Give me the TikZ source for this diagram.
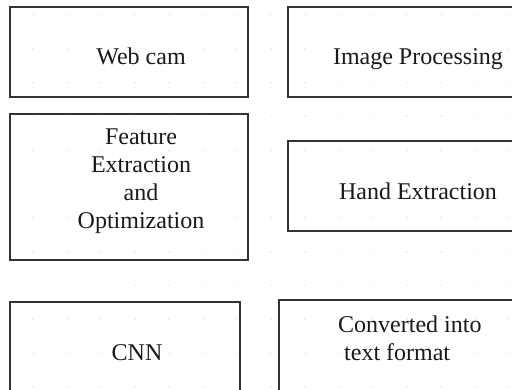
\documentclass[tikz,border=0pt]{standalone}
\usepackage{fontspec}
\setmainfont{Liberation Serif}
\usepackage{tikz}
\usetikzlibrary{positioning}

\begin{document}
\begin{tikzpicture}[x=1pt, y=-1pt,
        box/.style={rectangle, draw=black!80, line width=1.5pt, inner sep=0pt, outer sep=0pt},
        lbl/.style={inner sep=0pt, font=\fontsize{24}{27.7}\selectfont, text=black!90},
        gdot/.style={fill=black!18}]

        \clip (0,0) rectangle (512,390);
        \fill[white] (0,0) rectangle (512,390);

        % faint grid
        \foreach \i in {0,...,14} {
            \foreach \j in {0,...,11} {
                \fill[gdot] (33+34*\i,15+33.8*\j) circle (0.6pt);
            }
        }

        % boxes
        \node[box, minimum width=238pt, minimum height=90pt] (webcam) at (129,52) {};
        \node[box, minimum width=260pt, minimum height=90pt] (imgproc) at (418,52) {};
        \node[box, minimum width=238pt, minimum height=146pt] (feature) at (129,187) {};
        \node[box, minimum width=260pt, minimum height=90pt] (hand) at (418,186) {};
        \node[box, minimum width=230pt, minimum height=96pt] (cnn) at (125,350) {};
        \node[box, minimum width=248pt, minimum height=96pt] (conv) at (403,348) {};

        % labels
        \node[lbl, anchor=base] (webcamtxt) at (141,65) {Web cam};
        \node[lbl, anchor=base] (imgproctxt) at (418,65) {Image Processing};
        \node[lbl, anchor=north, align=center] (featuretxt) at (141,129)
            {Feature\\Extraction\\and\\Optimization};
        \node[lbl, anchor=base] (handtxt) at (418,200) {Hand Extraction};
        \node[lbl, anchor=base] (cnntxt) at (137,361) {CNN};
        \node[lbl, anchor=north west, align=left] (convtxt) at (338,315.6)
            {Converted into\\\hspace*{6pt}text format};
      \end{tikzpicture}
\end{document}
